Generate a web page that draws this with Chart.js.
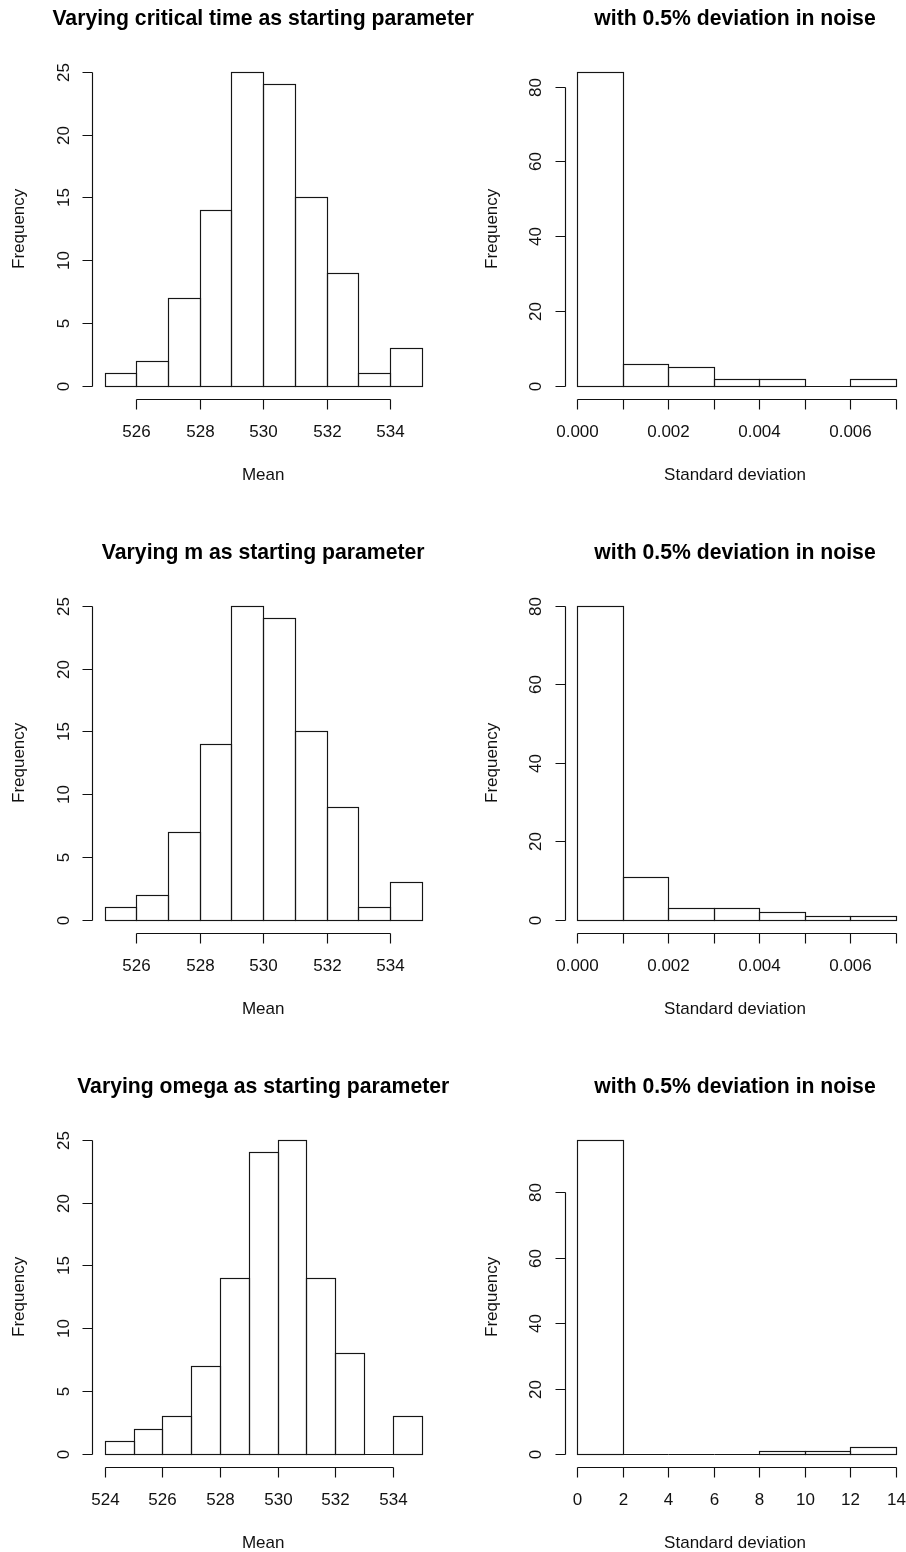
<!DOCTYPE html>
<html>
<head>
<meta charset="utf-8">
<title>Starting parameter histograms</title>
<script src="https://cdn.jsdelivr.net/npm/chart.js@4.4.1/dist/chart.umd.min.js"></script>
<style>
  html, body { margin: 0; padding: 0; background: #fff; overflow: hidden; }
  #page { position: relative; width: 906px; height: 1552px; overflow: hidden; background: #fff; }
  #page canvas { position: absolute; }
</style>
</head>
<body>
<div id="page"></div>
<script>
// histogram bins and counts, one pair per panel
const critBreaks = [525, 526, 527, 528, 529, 530, 531, 532, 533, 534, 535];
const critCounts = [1, 2, 7, 14, 25, 24, 15, 9, 1, 3];
const critSdBreaks = [0, 0.001, 0.002, 0.003, 0.004, 0.005, 0.006, 0.007];
const critSdCounts = [84, 6, 5, 2, 2, 0, 2];

const mBreaks = [525, 526, 527, 528, 529, 530, 531, 532, 533, 534, 535];
const mCounts = [1, 2, 7, 14, 25, 24, 15, 9, 1, 3];
const mSdBreaks = [0, 0.001, 0.002, 0.003, 0.004, 0.005, 0.006, 0.007];
const mSdCounts = [80, 11, 3, 3, 2, 1, 1];

const omegaBreaks = [524, 525, 526, 527, 528, 529, 530, 531, 532, 533, 534, 535];
const omegaCounts = [1, 2, 3, 7, 14, 24, 25, 14, 8, 0, 3];
const omegaSdBreaks = [0, 2, 4, 6, 8, 10, 12, 14];
const omegaSdCounts = [96, 0, 0, 0, 1, 1, 2];

// axis ticks and their labels
const meanTicks = [526, 528, 530, 532, 534];
const omegaMeanTicks = [524, 526, 528, 530, 532, 534];
const sdTicks = [0, 0.001, 0.002, 0.003, 0.004, 0.005, 0.006, 0.007];
const sdTickLabels = ['0.000', '', '0.002', '', '0.004', '', '0.006', ''];
const omegaSdTicks = [0, 2, 4, 6, 8, 10, 12, 14];
const omegaSdTickLabels = ['0', '2', '4', '6', '8', '10', '12', '14'];
const freqTicksMean = [0, 5, 10, 15, 20, 25];
const freqTicksSd = [0, 20, 40, 60, 80];

const noiseTitle = 'with 0.5% deviation in noise';

const panels = [
  { row: 0, col: 0, title: 'Varying critical time as starting parameter', xlab: 'Mean',
    breaks: critBreaks, counts: critCounts, xTicks: meanTicks, xLabels: meanTicks.map(String), yTicks: freqTicksMean },
  { row: 0, col: 1, title: noiseTitle, xlab: 'Standard deviation',
    breaks: critSdBreaks, counts: critSdCounts, xTicks: sdTicks, xLabels: sdTickLabels, yTicks: freqTicksSd },
  { row: 1, col: 0, title: 'Varying m as starting parameter', xlab: 'Mean',
    breaks: mBreaks, counts: mCounts, xTicks: meanTicks, xLabels: meanTicks.map(String), yTicks: freqTicksMean },
  { row: 1, col: 1, title: noiseTitle, xlab: 'Standard deviation',
    breaks: mSdBreaks, counts: mSdCounts, xTicks: sdTicks, xLabels: sdTickLabels, yTicks: freqTicksSd },
  { row: 2, col: 0, title: 'Varying omega as starting parameter', xlab: 'Mean',
    breaks: omegaBreaks, counts: omegaCounts, xTicks: omegaMeanTicks, xLabels: omegaMeanTicks.map(String), yTicks: freqTicksMean },
  { row: 2, col: 1, title: noiseTitle, xlab: 'Standard deviation',
    breaks: omegaSdBreaks, counts: omegaSdCounts, xTicks: omegaSdTicks, xLabels: omegaSdTickLabels, yTicks: freqTicksSd }
];

const FONT = '"Liberation Sans", Arial, Helvetica, sans-serif';
const CANVAS_W = 490;
const CANVAS_H = 534;
const COL_X = [0, 453];
const PAD = [
  { left: 92, right: 55.6, top: 59.1, bottom: 135.4 },
  { left: 111.6, right: 34.6, top: 59.1, bottom: 135.4 }
];

// base-graphics style axes, bin outlines and labels
const rAxes = {
  id: 'rAxes',
  afterDatasetsDraw(chart, args, opts) {
    const p = opts.panel;
    const ctx = chart.ctx;
    const { left, right, top, bottom } = chart.chartArea;
    const xs = chart.scales.x;
    const ys = chart.scales.y;
    const snap = v => Math.round(v) + 0.5;

    ctx.save();

    // bin outlines
    ctx.strokeStyle = '#161616';
    ctx.lineWidth = 1.15;
    chart.getDatasetMeta(0).data.forEach(bar => {
      const { x, y, base, width } = bar.getProps(['x', 'y', 'base', 'width'], true);
      const x0 = snap(x - width / 2), x1 = snap(x + width / 2);
      const y0 = snap(y), y1 = snap(base);
      ctx.strokeRect(x0, y0, x1 - x0, y1 - y0);
    });

    ctx.strokeStyle = '#111';
    ctx.fillStyle = '#111';

    // y axis
    const ax = snap(left);
    const yt = p.yTicks.map(v => snap(ys.getPixelForValue(v)));
    ctx.beginPath();
    ctx.moveTo(ax, yt[0]);
    ctx.lineTo(ax, yt[yt.length - 1]);
    yt.forEach(py => { ctx.moveTo(ax, py); ctx.lineTo(ax - 10, py); });
    ctx.stroke();

    ctx.font = '17px ' + FONT;
    ctx.textAlign = 'center';
    ctx.textBaseline = 'alphabetic';
    p.yTicks.forEach((v, i) => {
      ctx.save();
      ctx.translate(left - 23.5, yt[i]);
      ctx.rotate(-Math.PI / 2);
      ctx.fillText(String(v), 0, 0);
      ctx.restore();
    });

    // x axis
    const by = snap(bottom);
    const xt = p.xTicks.map(v => snap(xs.getPixelForValue(v)));
    ctx.beginPath();
    ctx.moveTo(xt[0], by);
    ctx.lineTo(xt[xt.length - 1], by);
    xt.forEach(px => { ctx.moveTo(px, by); ctx.lineTo(px, by + 10); });
    ctx.stroke();

    p.xLabels.forEach((lab, i) => {
      if (lab) ctx.fillText(lab, xt[i], bottom + 38.7);
    });

    // axis titles
    const cx = (left + right) / 2;
    ctx.fillText(p.xlab, cx - 1.5 * p.col, bottom + 81.4);
    ctx.save();
    ctx.translate(left - 67.8, (top + bottom) / 2);
    ctx.rotate(-Math.PI / 2);
    ctx.fillText('Frequency', 0, 0);
    ctx.restore();

    // main title
    ctx.fillStyle = '#000';
    ctx.font = 'bold 21.2px ' + FONT;
    ctx.fillText(p.title, cx - 1.5 * p.col, 25.3);

    ctx.restore();
  }
};

const page = document.getElementById('page');

panels.forEach(p => {
  const canvas = document.createElement('canvas');
  canvas.width = CANVAS_W;
  canvas.height = CANVAS_H;
  canvas.style.left = COL_X[p.col] + 'px';
  canvas.style.top = (p.row * CANVAS_H) + 'px';
  page.appendChild(canvas);

  const lo = p.breaks[0];
  const hi = p.breaks[p.breaks.length - 1];
  const xExt = (hi - lo) * 0.04;
  const yMax = Math.max(...p.counts);
  const yExt = yMax * 0.04;

  const points = p.counts.map((c, i) => ({ x: (p.breaks[i] + p.breaks[i + 1]) / 2, y: c }));

  new Chart(canvas.getContext('2d'), {
    type: 'bar',
    data: {
      datasets: [{
        data: points,
        backgroundColor: 'rgba(255, 255, 255, 0)',
        borderWidth: 0,
        barPercentage: 1,
        categoryPercentage: 1
      }]
    },
    options: {
      responsive: false,
      animation: false,
      devicePixelRatio: 1,
      layout: { padding: PAD[p.col] },
      plugins: {
        legend: { display: false },
        tooltip: { enabled: false },
        rAxes: { panel: p }
      },
      scales: {
        x: {
          type: 'linear',
          display: false,
          offset: false,
          min: lo - xExt,
          max: hi + xExt,
          grid: { offset: false },
          afterBuildTicks: axis => { axis.ticks = p.breaks.map(v => ({ value: v })); }
        },
        y: {
          type: 'linear',
          display: false,
          min: -yExt,
          max: yMax + yExt
        }
      }
    },
    plugins: [rAxes]
  });
});
</script>
</body>
</html>
